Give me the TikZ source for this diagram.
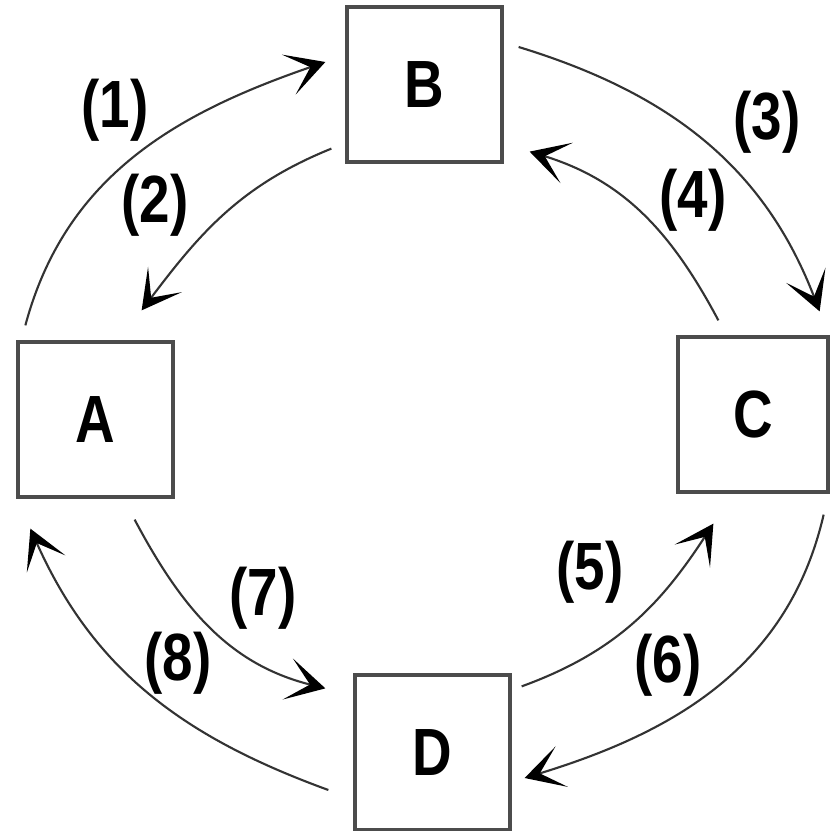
\documentclass[tikz,border=0pt]{standalone}
\usepackage{fontspec}
\setmainfont{Liberation Sans}[FakeStretch=0.82]
\usetikzlibrary{arrows.meta}

\begin{document}
\begin{tikzpicture}[x=0.01cm,y=0.01cm,
        state/.style={draw=black!70,line width=0.9pt,minimum width=1.55cm,
                minimum height=1.55cm,inner sep=0pt,
                font=\fontsize{19}{19}\selectfont\bfseries},
        link/.style={draw=black!80,line width=0.6pt,
                -{Stealth[length=11pt,width=12pt,inset=6.5pt,black]}},
        tag/.style={font=\fontsize{19}{19}\selectfont\bfseries}]
        \useasboundingbox (0,0) rectangle (830,-831);

        \node[state] (B) at (424.5,-84.5) {B};
        \node[state] (A) at (95.5,-419.5) {A};
        \node[state,minimum width=1.5cm] (C) at (753,-414.5) {C};
        \node[state] (D) at (432.5,-752.5) {D};

        \draw[link] ([shift={(9,15)}]A.north west) to[out=75,in=199]
                ([shift={(-20,22.5)}]B.west);
        \draw[link] ([shift={(-14,15)}]B.south west) to[out=202,in=53]
                ([shift={(-33,30)}]A.north east);
        \draw[link] ([shift={(15,37.5)}]B.east) to[out=-17,in=111]
                ([shift={(-10,24)}]C.north east);
        \draw[link] ([shift={(42,15)}]C.north west) to[out=118,in=-17]
                ([shift={(26,12)}]B.south east);
        \draw[link] ([shift={(10,-13)}]D.north east) to[out=20,in=237]
                ([shift={(37,-30)}]C.south west);
        \draw[link] ([shift={(-6,-21)}]C.south east) to[out=257,in=17]
                ([shift={(13,-25.5)}]D.east);
        \draw[link] ([shift={(-40,-21)}]A.south east) to[out=-62,in=166]
                ([shift={(-28,-15)}]D.north west);
        \draw[link] ([shift={(-25,-37.5)}]D.west) to[out=160,in=294]
                ([shift={(14,-30)}]A.south west);

        \node[tag] (t1) at (115,-110) {(1)};
        \node[tag] (t2) at (155,-205) {(2)};
        \node[tag] (t3) at (767,-122) {(3)};
        \node[tag] (t4) at (693,-200) {(4)};
        \node[tag] (t5) at (590,-572) {(5)};
        \node[tag] (t6) at (668,-665) {(6)};
        \node[tag] (t7) at (263,-598) {(7)};
        \node[tag] (t8) at (178,-663) {(8)};
\end{tikzpicture}
\end{document}
